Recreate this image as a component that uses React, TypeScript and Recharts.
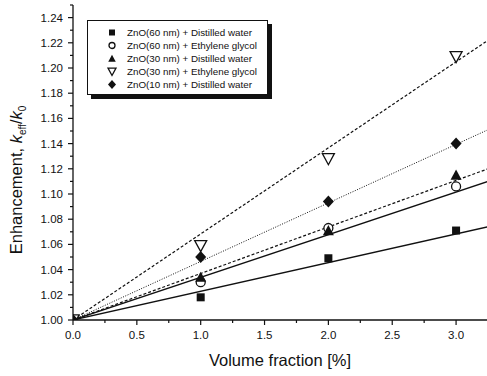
import React from 'react';
import { ComposedChart, Scatter, XAxis, YAxis, Legend } from 'recharts';

// ---- data ----
const volumeFraction = [0, 1, 2, 3];
const zno60DW = [1.0, 1.018, 1.049, 1.071];
const zno60EG = [1.0, 1.030, 1.073, 1.106];
const zno30DW = [1.0, 1.034, 1.071, 1.115];
const zno30EG = [1.0, 1.059, 1.128, 1.209];
const zno10DW = [1.0, 1.050, 1.094, 1.140];

// linear fit lines (through origin), endpoints
const fitX = [0, 3.25];
const fit60DW = [1.0, 1.074];
const fit60EG = [1.0, 1.110];
const fit30DW = [1.0, 1.120];
const fit30EG = [1.0, 1.222];
const fit10DW = [1.0, 1.151];

const seriesNames = [
  'ZnO(60 nm) + Distilled water',
  'ZnO(60 nm) + Ethylene glycol',
  'ZnO(30 nm) + Distilled water',
  'ZnO(30 nm) + Ethylene glycol',
  'ZnO(10 nm) + Distilled water',
];

const xTicks = [0, 0.25, 0.5, 0.75, 1.0, 1.25, 1.5, 1.75, 2.0, 2.25, 2.5, 2.75, 3.0];
const yTicks = [1.0, 1.01, 1.02, 1.03, 1.04, 1.05, 1.06, 1.07, 1.08, 1.09, 1.1, 1.11, 1.12, 1.13, 1.14, 1.15, 1.16, 1.17, 1.18, 1.19, 1.2, 1.21, 1.22, 1.23, 1.24, 1.25];

const toPoints = (xs: number[], ys: number[]) => xs.map((x, i) => ({ x, y: ys[i] }));

const FONT = '"Liberation Sans", Arial, Helvetica, sans-serif';
const INK = '#111';

// ---- markers ----
const Square = (s: number) => (p: any) => (
  <rect x={p.cx - s / 2} y={p.cy - s / 2} width={s} height={s} fill={INK} />
);
const Circle = (r: number) => (p: any) => (
  <circle cx={p.cx} cy={p.cy} r={r} fill="#fff" stroke={INK} strokeWidth={1.3} />
);
const TriUp = (s: number) => (p: any) => (
  <polygon
    points={`${p.cx - s / 2},${p.cy + s * 0.42} ${p.cx + s / 2},${p.cy + s * 0.42} ${p.cx},${p.cy - s * 0.5}`}
    fill={INK}
  />
);
const TriDown = (s: number) => (p: any) => (
  <polygon
    points={`${p.cx - s / 2},${p.cy - s * 0.42} ${p.cx + s / 2},${p.cy - s * 0.42} ${p.cx},${p.cy + s * 0.5}`}
    fill="#fff"
    stroke={INK}
    strokeWidth={1.3}
  />
);
const Diamond = (w: number, h: number) => (p: any) => (
  <polygon
    points={`${p.cx},${p.cy - h / 2} ${p.cx + w / 2},${p.cy} ${p.cx},${p.cy + h / 2} ${p.cx - w / 2},${p.cy}`}
    fill={INK}
  />
);
const NoShape = () => <g />;

const legendMarkers = [Square(6), Circle(3), TriUp(7.5), TriDown(8), Diamond(8, 9)];

// ---- ticks ----
const isMajorX = (v: number) => Math.abs(v * 2 - Math.round(v * 2)) < 1e-6;
const isMajorY = (v: number) => Math.round(v * 100) % 2 === 0;

const BottomTick = (p: any) => {
  const v = p.payload.value;
  const major = isMajorX(v);
  return (
    <g>
      <line x1={p.x} x2={p.x} y1={p.y} y2={p.y + (major ? 5 : 3)} stroke={INK} strokeWidth={1.2} />
      {major && (
        <text x={p.x} y={p.y + 19} textAnchor="middle" fontSize={11.5} fontFamily={FONT} fill={INK}>
          {v.toFixed(1)}
        </text>
      )}
    </g>
  );
};
const TopTick = (p: any) => {
  const major = isMajorX(p.payload.value);
  return <line x1={p.x} x2={p.x} y1={p.y} y2={p.y + (major ? 5 : 3)} stroke={INK} strokeWidth={1.2} />;
};
const LeftTick = (p: any) => {
  const v = p.payload.value;
  const major = isMajorY(v);
  return (
    <g>
      <line x1={p.x} x2={p.x - (major ? 5 : 3)} y1={p.y} y2={p.y} stroke={INK} strokeWidth={1.2} />
      {major && (
        <text x={p.x - 10} y={p.y + 4} textAnchor="end" fontSize={11.5} fontFamily={FONT} fill={INK}>
          {v.toFixed(2)}
        </text>
      )}
    </g>
  );
};
const RightTick = (p: any) => {
  const major = isMajorY(p.payload.value);
  return <line x1={p.x} x2={p.x - (major ? 5 : 3)} y1={p.y} y2={p.y} stroke={INK} strokeWidth={1.2} />;
};

const XLabel = () => (
  <text x={280} y={366} textAnchor="middle" fontSize={16.5} fontFamily={FONT} fill={INK}>
    Volume fraction [%]
  </text>
);
const YLabel = () => (
  <text
    x={0}
    y={0}
    transform="translate(22,180) rotate(-90)"
    textAnchor="middle"
    fontSize={16.5}
    fontFamily={FONT}
    fill={INK}
  >
    Enhancement,{' '}
    <tspan fontStyle="italic">k</tspan>
    <tspan fontSize={10} dy={4}>eff</tspan>
    <tspan dy={-4}>/</tspan>
    <tspan fontStyle="italic">k</tspan>
    <tspan fontSize={10} dy={4}>0</tspan>
  </text>
);

const LegendBox = () => (
  <div
    style={{
      width: 179,
      height: 68,
      border: `1px solid ${INK}`,
      background: '#fff',
      boxShadow: `4px 4px 0 ${INK}`,
      paddingTop: 4.5,
      boxSizing: 'content-box',
      fontFamily: FONT,
      fontSize: 9.8,
      color: INK,
    }}
  >
    {seriesNames.map((n, i) => (
      <div key={n} style={{ height: 13, display: 'flex', alignItems: 'center', position: 'relative' }}>
        <svg width={14} height={13} style={{ position: 'absolute', left: 17 }}>
          {legendMarkers[i]({ cx: 7, cy: 6.5 })}
        </svg>
        <span style={{ position: 'absolute', left: 39, lineHeight: '13px', whiteSpace: 'nowrap' }}>{n}</span>
      </div>
    ))}
  </div>
);

export default function App() {
  return (
    <div style={{ width: 487, height: 376, overflow: 'hidden', background: '#fff', position: 'relative' }}>
      <style>{`body{margin:0;background:#fff}`}</style>
      <ComposedChart width={490} height={376} margin={{ top: 5, right: 2, bottom: 0, left: 0 }}>
        <XAxis
          xAxisId="b"
          type="number"
          dataKey="x"
          domain={[0, 3.25]}
          ticks={xTicks}
          interval={0}
          allowDataOverflow
          height={56}
          tickSize={0}
          tickMargin={0}
          tickLine={false}
          tick={BottomTick}
          axisLine={{ stroke: INK, strokeWidth: 1.3 }}
          label={{ content: XLabel }}
        />
        <XAxis
          xAxisId="t"
          orientation="top"
          type="number"
          dataKey="x"
          domain={[0, 3.25]}
          ticks={xTicks}
          interval={0}
          allowDataOverflow
          height={0}
          tickSize={0}
          tickMargin={0}
          tickLine={false}
          tick={TopTick}
          axisLine={{ stroke: INK, strokeWidth: 1.3 }}
        />
        <YAxis
          yAxisId="l"
          type="number"
          dataKey="y"
          domain={[1.0, 1.25]}
          ticks={yTicks}
          interval={0}
          allowDataOverflow
          width={73}
          tickSize={0}
          tickMargin={0}
          tickLine={false}
          tick={LeftTick}
          axisLine={{ stroke: INK, strokeWidth: 1.3 }}
          label={{ content: YLabel }}
        />
        <YAxis
          yAxisId="r"
          orientation="right"
          type="number"
          dataKey="y"
          domain={[1.0, 1.25]}
          ticks={yTicks}
          interval={0}
          allowDataOverflow
          width={0}
          tickSize={0}
          tickMargin={0}
          tickLine={false}
          tick={RightTick}
          axisLine={{ stroke: INK, strokeWidth: 1.3 }}
        />
        <Legend
          layout="vertical"
          align="center"
          verticalAlign="middle"
          content={LegendBox}
          wrapperStyle={{ left: 87, top: 20, width: 'auto', height: 'auto' }}
        />

        {/* fit lines */}
        <Scatter xAxisId="b" yAxisId="l" data={toPoints(fitX, fit60DW)} shape={NoShape} line={{ stroke: INK, strokeWidth: 1.3 }} isAnimationActive={false} legendType="none" />
        <Scatter xAxisId="b" yAxisId="l" data={toPoints(fitX, fit60EG)} shape={NoShape} line={{ stroke: INK, strokeWidth: 1.3 }} isAnimationActive={false} legendType="none" />
        <Scatter xAxisId="b" yAxisId="l" data={toPoints(fitX, fit30DW)} shape={NoShape} line={{ stroke: INK, strokeWidth: 1.2, strokeDasharray: '3 2' }} isAnimationActive={false} legendType="none" />
        <Scatter xAxisId="b" yAxisId="l" data={toPoints(fitX, fit30EG)} shape={NoShape} line={{ stroke: INK, strokeWidth: 1.2, strokeDasharray: '3 2' }} isAnimationActive={false} legendType="none" />
        <Scatter xAxisId="b" yAxisId="l" data={toPoints(fitX, fit10DW)} shape={NoShape} line={{ stroke: INK, strokeWidth: 1, strokeDasharray: '1 1.5' }} isAnimationActive={false} legendType="none" />

        {/* measured points */}
        <Scatter name={seriesNames[0]} xAxisId="b" yAxisId="l" data={toPoints(volumeFraction, zno60DW)} shape={Square(8)} isAnimationActive={false} />
        <Scatter name={seriesNames[1]} xAxisId="b" yAxisId="l" data={toPoints(volumeFraction, zno60EG)} shape={Circle(4.5)} isAnimationActive={false} />
        <Scatter name={seriesNames[2]} xAxisId="b" yAxisId="l" data={toPoints(volumeFraction, zno30DW)} shape={TriUp(11)} isAnimationActive={false} />
        <Scatter name={seriesNames[3]} xAxisId="b" yAxisId="l" data={toPoints(volumeFraction, zno30EG)} shape={TriDown(12)} isAnimationActive={false} />
        <Scatter name={seriesNames[4]} xAxisId="b" yAxisId="l" data={toPoints(volumeFraction, zno10DW)} shape={Diamond(11, 12)} isAnimationActive={false} />
      </ComposedChart>
    </div>
  );
}
